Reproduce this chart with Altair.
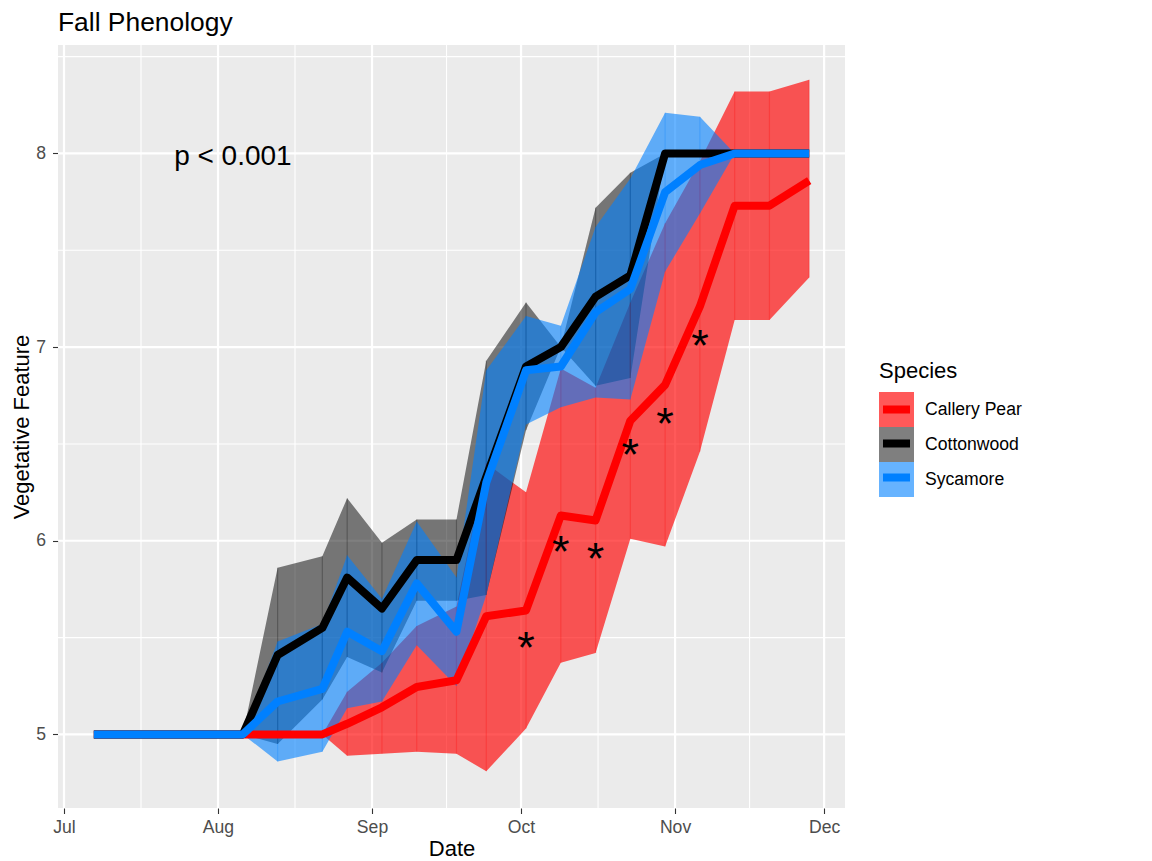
import altair as alt
import pandas as pd

FONT = "Liberation Sans"

# ---------------- data ----------------
dates = ["2021-07-07", "2021-08-06", "2021-08-13", "2021-08-22", "2021-08-27",
         "2021-09-03", "2021-09-10", "2021-09-18", "2021-09-24", "2021-10-02",
         "2021-10-09", "2021-10-16", "2021-10-23", "2021-10-30", "2021-11-06",
         "2021-11-13", "2021-11-20", "2021-11-28"]

species = ["Callery Pear", "Cottonwood", "Sycamore"]

pear_mean = [5.0, 5.0, 5.0, 5.0, 5.055, 5.14, 5.245, 5.28, 5.61, 5.64,
             6.13, 6.105, 6.62, 6.805, 7.21, 7.73, 7.73, 7.86]
pear_lo = [5.0, 5.0, 5.0, 5.0, 4.89, 4.90, 4.91, 4.90, 4.81, 5.03,
           5.37, 5.42, 6.01, 5.97, 6.46, 7.14, 7.14, 7.36]
pear_hi = [5.0, 5.0, 5.0, 5.0, 5.22, 5.37, 5.56, 5.66, 6.40, 6.25,
           6.89, 6.79, 7.23, 7.64, 7.96, 8.32, 8.32, 8.38]

cotton_mean = [5.0, 5.0, 5.41, 5.55, 5.81, 5.65, 5.90, 5.90, 6.33, 6.90,
               7.00, 7.26, 7.37, 8.0, 8.0, 8.0, 8.0, 8.0]
cotton_lo = [5.0, 5.0, 4.95, 5.18, 5.40, 5.32, 5.69, 5.69, 5.72, 6.57,
             7.00, 6.80, 6.84, 8.0, 8.0, 8.0, 8.0, 8.0]
cotton_hi = [5.0, 5.0, 5.86, 5.92, 6.22, 5.99, 6.11, 6.11, 6.93, 7.23,
             7.00, 7.72, 7.90, 8.0, 8.0, 8.0, 8.0, 8.0]

syc_mean = [5.0, 5.0, 5.17, 5.235, 5.53, 5.43, 5.78, 5.53, 6.30, 6.88,
            6.90, 7.18, 7.30, 7.80, 7.94, 8.0, 8.0, 8.0]
syc_lo = [5.0, 5.0, 4.86, 4.91, 5.135, 5.17, 5.46, 5.25, 5.72, 6.60,
          6.69, 6.74, 6.73, 7.39, 7.69, 8.0, 8.0, 8.0]
syc_hi = [5.0, 5.0, 5.48, 5.57, 5.925, 5.70, 6.10, 5.81, 6.88, 7.16,
          7.11, 7.62, 7.87, 8.21, 8.19, 8.0, 8.0, 8.0]

star_dates = ["2021-10-02", "2021-10-09", "2021-10-16", "2021-10-23",
              "2021-10-30", "2021-11-06"]
star_y = [5.48, 5.98, 5.94, 6.48, 6.64, 7.04]

p_dates = ["2021-08-04"]
p_y = [8.0]
p_label = "p < 0.001"

x_major = ["2021-07-01", "2021-08-01", "2021-09-01", "2021-10-01",
           "2021-11-01", "2021-12-01"]
x_minor = ["2021-07-16T12:00:00", "2021-08-16T12:00:00", "2021-09-16T00:00:00",
           "2021-10-16T12:00:00", "2021-11-16T00:00:00"]
y_major = [5, 6, 7, 8]
y_minor = [5.5, 6.5, 7.5, 8.5]

line_colors = ["#FF0000", "#000000", "#0080FF"]
fill_colors = ["rgba(255,0,0,0.65)", "rgba(0,0,0,0.5)", "rgba(0,128,255,0.6)"]

# ---------------- tables ----------------
rows = []
for sp, m, lo, hi in [("Callery Pear", pear_mean, pear_lo, pear_hi),
                      ("Cottonwood", cotton_mean, cotton_lo, cotton_hi),
                      ("Sycamore", syc_mean, syc_lo, syc_hi)]:
    for d, a, b, c in zip(dates, m, lo, hi):
        rows.append({"date": d + "T00:00:00", "Species": sp, "Series": sp,
                     "mean": a, "lo": b, "hi": c})
df = pd.DataFrame(rows)

df_star = pd.DataFrame({"date": [d + "T00:00:00" for d in star_dates], "y": star_y})
df_p = pd.DataFrame({"date": [d + "T00:00:00" for d in p_dates], "y": p_y, "label": [p_label]})
df_xmaj = pd.DataFrame({"g": [d + "T00:00:00" for d in x_major]})
df_xmin = pd.DataFrame({"g": x_minor})
df_ymaj = pd.DataFrame({"g": y_major})
df_ymin = pd.DataFrame({"g": y_minor})

x_scale = alt.Scale(domain=[alt.DateTime(year=2021, month=6, date=29, hours=19),
                            alt.DateTime(year=2021, month=12, date=5, hours=5)])
y_scale = alt.Scale(domain=[4.62, 8.56], nice=False, zero=False)

x_axis = alt.Axis(values=[alt.DateTime(year=2021, month=m, date=1) for m in range(7, 13)],
                  format="%b", grid=False, domain=False, tickColor="#333333",
                  tickWidth=1.1, tickSize=5.5, labelPadding=4.5, labelFontSize=17.6,
                  labelColor="#4D4D4D", labelFont=FONT, title="Date", titleFontSize=22,
                  titleFont=FONT, titleFontWeight="normal", titleColor="black",
                  titlePadding=2.5)
y_axis = alt.Axis(values=y_major, grid=False, domain=False, tickColor="#333333",
                  tickWidth=1.1, tickSize=5.5, labelPadding=7, labelFontSize=17.6,
                  labelColor="#4D4D4D", labelFont=FONT, title="Vegetative Feature",
                  titleFontSize=22, titleFont=FONT, titleFontWeight="normal",
                  titleColor="black", titlePadding=2)

legend_common = dict(orient="none", legendX=821, legendY=315.6, titleFontSize=22,
                     titleFont=FONT, titleFontWeight="normal", titlePadding=9.4,
                     labelFontSize=17.6, labelFont=FONT, labelOffset=11,
                     rowPadding=0, padding=0)
legend_fill = alt.Legend(title="Species", symbolType="square", symbolSize=1225,
                         symbolStrokeWidth=0, titleColor="black", labelColor="black",
                         **legend_common)
legend_line = alt.Legend(title="Species", symbolType="stroke", symbolSize=729,
                         symbolStrokeWidth=8, titleColor="transparent",
                         labelColor="transparent", **legend_common)


def X(field):
    return alt.X(field, scale=x_scale, axis=x_axis, title="Date")


def Y(field):
    return alt.Y(field, scale=y_scale, axis=y_axis, title="Vegetative Feature")


# ---------------- layers ----------------
vmin = alt.Chart(df_xmin).mark_rule(color="white", strokeWidth=1.1).encode(x=X("g:T"))
vmaj = alt.Chart(df_xmaj).mark_rule(color="white", strokeWidth=2.2).encode(x=X("g:T"))
hmin = alt.Chart(df_ymin).mark_rule(color="white", strokeWidth=1.1).encode(y=Y("g:Q"))
hmaj = alt.Chart(df_ymaj).mark_rule(color="white", strokeWidth=2.2).encode(y=Y("g:Q"))

ribbons = alt.Chart(df).mark_area().encode(
    x=X("date:T"),
    y=Y("lo:Q"),
    y2="hi:Q",
    fill=alt.Fill("Species:N", scale=alt.Scale(domain=species, range=fill_colors),
                  legend=legend_fill),
)

seams = alt.Chart(df).mark_rule(strokeWidth=1.2, opacity=0.25).encode(
    x=X("date:T"),
    y=Y("lo:Q"),
    y2="hi:Q",
    color=alt.Color("Species:N", scale=alt.Scale(domain=species, range=line_colors),
                    legend=None),
)

lines = alt.Chart(df).mark_line(strokeWidth=8, strokeCap="butt", strokeJoin="round").encode(
    x=X("date:T"),
    y=Y("mean:Q"),
    stroke=alt.Stroke("Series:N", scale=alt.Scale(range=line_colors), legend=legend_line),
)

ptext = alt.Chart(df_p).mark_text(font=FONT, fontSize=28, color="black", align="center",
                                  baseline="alphabetic", dy=12).encode(
    x=X("date:T"),
    y=Y("y:Q"),
    text="label:N",
)

stars = alt.Chart(df_star).mark_text(text="*", font=FONT, fontSize=45, color="black",
                                     align="center", baseline="alphabetic", dy=22).encode(
    x=X("date:T"),
    y=Y("y:Q"),
)

chart = alt.layer(vmin, vmaj, hmin, hmaj, ribbons, seams, lines, ptext, stars).properties(
    width=787, height=763,
    autosize=alt.AutoSizeParams(type="none"),
    padding={"left": 50, "top": 37, "right": 200, "bottom": 53},
    title=alt.TitleParams("Fall Phenology", anchor="start", frame="group", fontSize=26.4,
                          font=FONT, fontWeight="normal", color="black", offset=7.5),
).configure_view(fill="#EBEBEB", strokeWidth=0)

chart.save("out.html", embed_options={"renderer": "svg", "actions": False})
